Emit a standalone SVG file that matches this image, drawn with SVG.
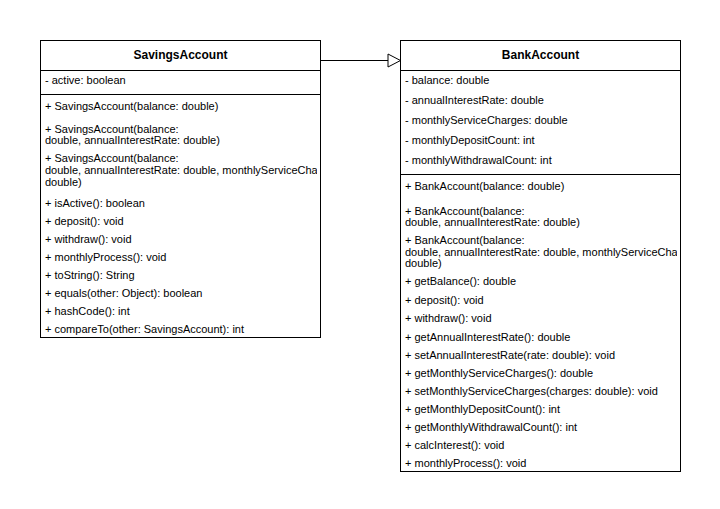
<svg xmlns="http://www.w3.org/2000/svg" width="720" height="509" viewBox="0 0 720 509">
<style>
.box{fill:#fff;stroke:#000;stroke-width:1}
.sep{stroke:#000;stroke-width:1;fill:none}
.t{font-family:"Liberation Sans",Arial,Helvetica,sans-serif;font-size:11px;fill:#000}
.h{font-family:"Liberation Sans",Arial,Helvetica,sans-serif;font-size:12px;font-weight:bold;fill:#000;text-anchor:middle}
.edge{stroke:#000;stroke-width:1;fill:none}
</style>
<defs>
<clipPath id="clipS"><rect x="40" y="40" width="277" height="300"/></clipPath>
<clipPath id="clipB"><rect x="400" y="40" width="277" height="435"/></clipPath>
</defs>
<rect width="720" height="509" fill="#fff"/>
<g id="connectors">
<path class="edge" d="M320.5 60.5 L388 60.5"/>
<path d="M388 54 L400.5 60.5 L388 67 Z" fill="#fff" stroke="#000" stroke-width="1"/>
</g>
<g id="SavingsAccount">
<rect class="box" x="40.5" y="40.5" width="280" height="297"/>
<line class="sep" x1="40.5" y1="70.5" x2="320.5" y2="70.5"/>
<line class="sep" x1="40.5" y1="94.5" x2="320.5" y2="94.5"/>
<text class="h" x="180.5" y="58.5">SavingsAccount</text>
<g clip-path="url(#clipS)">
<text class="t" x="45" y="84">- active: boolean</text>
<text class="t" x="45" y="110">+ SavingsAccount(balance: double)</text>
<text class="t" x="45" y="133">+ SavingsAccount(balance:</text>
<text class="t" x="45" y="144">double, annualInterestRate: double)</text>
<text class="t" x="45" y="162">+ SavingsAccount(balance:</text>
<text class="t" x="45" y="174">double, annualInterestRate: double, monthlyServiceCharges:</text>
<text class="t" x="45" y="186">double)</text>
<text class="t" x="45" y="207">+ isActive(): boolean</text>
<text class="t" x="45" y="225">+ deposit(): void</text>
<text class="t" x="45" y="243">+ withdraw(): void</text>
<text class="t" x="45" y="261">+ monthlyProcess(): void</text>
<text class="t" x="45" y="279">+ toString(): String</text>
<text class="t" x="45" y="297">+ equals(other: Object): boolean</text>
<text class="t" x="45" y="315">+ hashCode(): int</text>
<text class="t" x="45" y="333">+ compareTo(other: SavingsAccount): int</text>
</g>
</g>
<g id="BankAccount">
<rect class="box" x="400.5" y="40.5" width="280" height="431"/>
<line class="sep" x1="400.5" y1="70.5" x2="680.5" y2="70.5"/>
<line class="sep" x1="400.5" y1="174.5" x2="680.5" y2="174.5"/>
<text class="h" x="540.5" y="58.5">BankAccount</text>
<g clip-path="url(#clipB)">
<text class="t" x="405" y="84">- balance: double</text>
<text class="t" x="405" y="104">- annualInterestRate: double</text>
<text class="t" x="405" y="124">- monthlyServiceCharges: double</text>
<text class="t" x="405" y="144">- monthlyDepositCount: int</text>
<text class="t" x="405" y="164">- monthlyWithdrawalCount: int</text>
<text class="t" x="405" y="190">+ BankAccount(balance: double)</text>
<text class="t" x="405" y="215">+ BankAccount(balance:</text>
<text class="t" x="405" y="226">double, annualInterestRate: double)</text>
<text class="t" x="405" y="244">+ BankAccount(balance:</text>
<text class="t" x="405" y="256">double, annualInterestRate: double, monthlyServiceCharges:</text>
<text class="t" x="405" y="267">double)</text>
<text class="t" x="405" y="285">+ getBalance(): double</text>
<text class="t" x="405" y="304">+ deposit(): void</text>
<text class="t" x="405" y="322">+ withdraw(): void</text>
<text class="t" x="405" y="341">+ getAnnualInterestRate(): double</text>
<text class="t" x="405" y="359">+ setAnnualInterestRate(rate: double): void</text>
<text class="t" x="405" y="377">+ getMonthlyServiceCharges(): double</text>
<text class="t" x="405" y="395">+ setMonthlyServiceCharges(charges: double): void</text>
<text class="t" x="405" y="413">+ getMonthlyDepositCount(): int</text>
<text class="t" x="405" y="431">+ getMonthlyWithdrawalCount(): int</text>
<text class="t" x="405" y="449">+ calcInterest(): void</text>
<text class="t" x="405" y="467">+ monthlyProcess(): void</text>
</g>
</g>
</svg>
